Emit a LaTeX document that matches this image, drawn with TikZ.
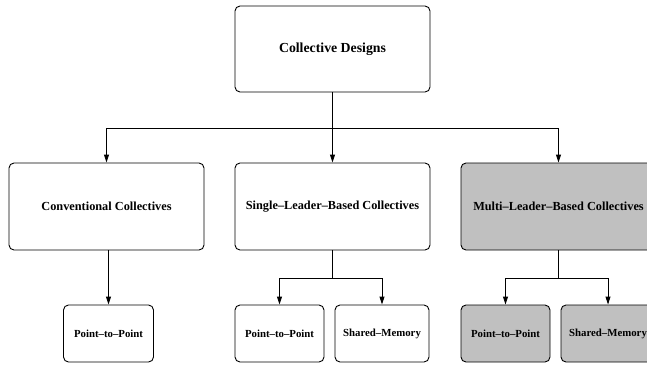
\documentclass[tikz,border=0pt]{standalone}
\usepackage{fontspec}
\setmainfont{Liberation Serif}
\usetikzlibrary{arrows.meta}
\definecolor{boxgray}{RGB}{192,192,192}
\begin{document}
\begin{tikzpicture}[x=1bp,y=-1bp,
  box/.style={draw, line width=0.9bp, rounded corners=5bp, inner sep=0pt, font=\bfseries},
  bigbox/.style={box, minimum width=195bp, minimum height=86bp, font=\bfseries\fontsize{12.3bp}{14bp}\selectfont},
  smallbox/.style={box, minimum height=57bp, font=\bfseries\fontsize{10.8bp}{12bp}\selectfont},
  shaded/.style={fill=boxgray},
  arr/.style={line width=0.9bp, -{Triangle[length=8bp,width=5bp]}},
  ln/.style={line width=0.9bp}]
\useasboundingbox (0,0) rectangle (647,365);
\node[bigbox, font=\bfseries\fontsize{13.8bp}{16bp}\selectfont] (top) at (332.5,49) {Collective Designs};
\node[bigbox, minimum height=87bp] (conv) at (106.5,206.5) {Conventional Collectives};
\node[bigbox, minimum height=87bp] (single) at (332.5,206.5) {Single--Leader--Based Collectives};
\node[bigbox, minimum height=87bp, shaded] (multi) at (558.5,206.5) {Multi--Leader--Based Collectives};
\node[smallbox, minimum width=90bp] (cptp) at (108.5,333.5) {Point--to--Point};
\node[smallbox, minimum width=89bp] (sptp) at (279.5,333.5) {Point--to--Point};
\node[smallbox, minimum width=94bp] (sshm) at (382,333.5) {Shared--Memory};
\node[smallbox, minimum width=89bp, shaded] (mptp) at (505.5,333.5) {Point--to--Point};
\node[smallbox, minimum width=94bp, shaded] (mshm) at (608,333.5) {Shared--Memory};
\coordinate (j0) at (332.5,128);
\coordinate (j1) at (332.5,278);
\coordinate (j2) at (558.5,278);
\draw[arr] (top) -- (single);
\draw[arr] (j0) -| (conv.north);
\draw[arr] (j0) -| (multi.north);
\draw[arr] (conv.south -| cptp.north) -- (cptp.north);
\draw[ln] (single.south) -- (j1);
\draw[arr] (j1) -| (sptp.north);
\draw[arr] (j1) -| (sshm.north);
\draw[ln] (multi.south) -- (j2);
\draw[arr] (j2) -| (mptp.north);
\draw[arr] (j2) -| (mshm.north);
\end{tikzpicture}
\end{document}
